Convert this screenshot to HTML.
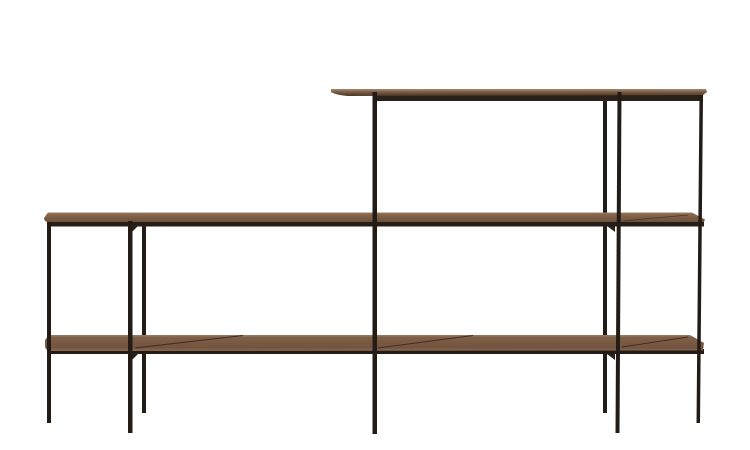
<!DOCTYPE html>
<html><head><meta charset="utf-8"><style>
html,body{margin:0;padding:0;background:#fff;}
svg{display:block;}
</style></head><body>
<svg width="750" height="450" viewBox="0 0 750 450" xmlns="http://www.w3.org/2000/svg">
<defs>
<linearGradient id="wm" x1="0" y1="0" x2="0" y2="1">
<stop offset="0" stop-color="#a08266"/>
<stop offset="0.2" stop-color="#86664c"/>
<stop offset="1" stop-color="#6e4f39"/>
</linearGradient>
<linearGradient id="wl" x1="0" y1="0" x2="0" y2="1">
<stop offset="0" stop-color="#9c7e64"/>
<stop offset="0.15" stop-color="#7e5f47"/>
<stop offset="0.8" stop-color="#735440"/>
<stop offset="1" stop-color="#8a6a50"/>
</linearGradient>
<linearGradient id="wt" x1="0" y1="0" x2="0" y2="1">
<stop offset="0" stop-color="#a88a70"/>
<stop offset="0.4" stop-color="#7d5e46"/>
<stop offset="1" stop-color="#4a3526"/>
</linearGradient>
</defs>

<!-- back legs (behind shelves) -->
<g fill="#241c17">
<rect x="142" y="224" width="4" height="189"/>
<rect x="603" y="99" width="4" height="314"/>
</g>

<!-- top shelf -->
<rect x="373" y="94" width="330" height="7" fill="#2a211b"/>
<path d="M331,89 L706,89 L707,92 L703,95 L348,96 Q336,95 331,92 Z" fill="url(#wt)"/>

<!-- middle shelf frame -->
<rect x="47" y="220" width="657" height="6.5" fill="#261e19"/>
<!-- middle shelf wood -->
<path d="M48,212.5 L692,212.5 L705,219.5 L704,222 L47,222 Q44,221 44,218 Z" fill="url(#wm)"/>
<line x1="623" y1="221" x2="688" y2="215" stroke="#4a3527" stroke-width="0.8"/>

<!-- lower shelf frame -->
<rect x="47" y="349" width="657" height="5" fill="#231b16"/>
<!-- lower shelf wood -->
<path d="M49,335 L690,335 L704,343 L703,350.5 L50,351 Q45,350 45,346 L45,340 Z" fill="url(#wl)"/>
<line x1="135" y1="348" x2="243" y2="335.5" stroke="#3e2c20" stroke-width="0.9"/>
<line x1="378" y1="348" x2="473" y2="335.5" stroke="#3e2c20" stroke-width="0.9"/>
<line x1="622" y1="347" x2="688" y2="337" stroke="#3e2c20" stroke-width="0.9"/>

<!-- front legs -->
<g fill="#231b16">
<rect x="47" y="222" width="4" height="201"/>
<rect x="128" y="221" width="4.5" height="212"/>
<rect x="372.5" y="92" width="4.5" height="342"/>
<path d="M617.5,92 L621.5,92 L619.5,433 L615.5,433 Z"/>
<path d="M699.5,95 L703,95 L700,423 L696.5,423 Z"/>
</g>
<!-- small brackets -->
<g fill="#2a211b">
<path d="M132,226 L140,224 L132,232 Z"/>
<path d="M132,354 L140,352 L132,360 Z"/>
<path d="M607,226 L615,226 L615,232 Z"/>
<path d="M607,354 L615,354 L615,360 Z"/>
</g>
</svg>
</body></html>
